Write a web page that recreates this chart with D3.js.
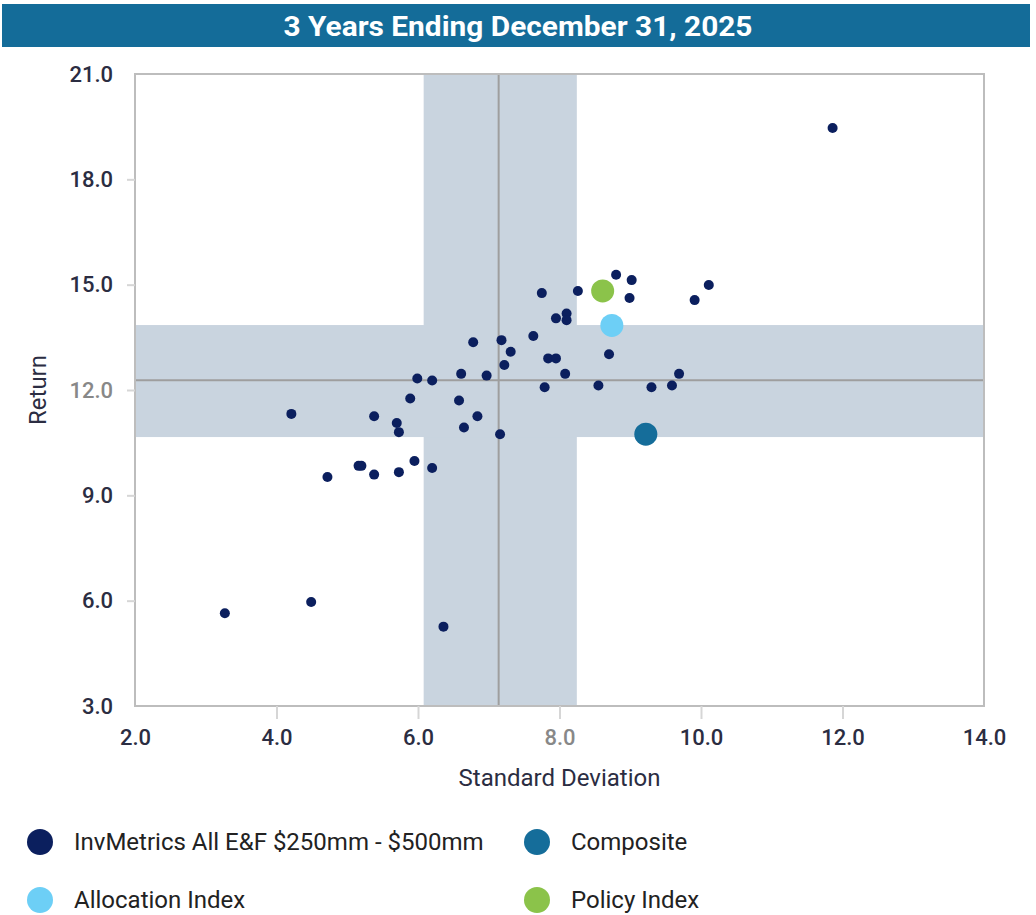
<!DOCTYPE html>
<html>
<head>
<meta charset="utf-8">
<script src="https://cdn.jsdelivr.net/npm/d3@7"></script>
<style>
  body { margin: 0; background: #fff; font-family: Roboto, "Noto Sans", sans-serif; }
</style>
</head>
<body>
<div id="chart"></div>
<script>
// peer universe: [std dev, return]
const peerRisk = [11.86, 8.80, 9.02, 8.26, 7.75, 8.99, 10.11, 9.91,
  8.10, 8.10, 7.95, 7.63, 6.78, 7.18, 7.31, 8.70,
  7.84, 7.95, 7.22, 8.08, 9.69, 7.79, 8.55, 9.30, 9.59,
  6.97, 5.99, 6.20, 6.61,
  5.89, 6.58, 4.21, 5.38, 6.84, 5.70, 5.73, 6.65, 7.16,
  4.72, 5.16, 5.20, 5.38, 5.73, 5.95, 6.20,
  3.27, 4.49, 6.36];
const peerReturn = [19.46, 15.28, 15.13, 14.82, 14.76, 14.62, 14.99, 14.56,
  14.18, 13.99, 14.04, 13.54, 13.36, 13.42, 13.09, 13.02,
  12.90, 12.90, 12.71, 12.46, 12.46, 12.08, 12.13, 12.08, 12.13,
  12.41, 12.33, 12.27, 12.46,
  11.76, 11.70, 11.32, 11.25, 11.25, 11.06, 10.80, 10.93, 10.74,
  9.52, 9.84, 9.84, 9.59, 9.66, 9.98, 9.78,
  5.64, 5.96, 5.26];

// highlighted series
const seriesNames = ["InvMetrics All E&F $250mm - $500mm", "Composite", "Allocation Index", "Policy Index"];
const seriesColors = ["#0b1f5e", "#156d9a", "#6dcff6", "#8bc34a"];
const highlightRisk = [null, 9.22, 8.74, 8.61];
const highlightReturn = [null, 10.74, 13.84, 14.82];

// peer median and interquartile bands
const medianRisk = 7.14, riskBand = [6.08, 8.245];
const medianReturn = 12.28, returnBand = [10.66, 13.85];

const xTicks = [2, 4, 6, 8, 10, 12, 14];
const yTicks = [3, 6, 9, 12, 15, 18, 21];

const width = 1036, height = 915;
const margin = { left: 135, right: 52, top: 74, bottom: 209 };

const svg = d3.select('#chart').append('svg')
  .attr('width', width).attr('height', height);

// title bar
svg.append('rect')
  .attr('x', 2).attr('y', 4).attr('width', 1028).attr('height', 43)
  .attr('fill', '#146c99');
svg.append('text')
  .attr('x', 518).attr('y', 36)
  .attr('text-anchor', 'middle')
  .attr('fill', '#fff')
  .attr('textLength', 469).attr('lengthAdjust', 'spacingAndGlyphs')
  .style('font-size', '28px').style('font-weight', 700)
  .text('3 Years Ending December 31, 2025');

const x = d3.scaleLinear().domain([2, 14]).range([margin.left, width - margin.right]);
const y = d3.scaleLinear().domain([3, 21]).range([height - margin.bottom, margin.top]);

const plot = svg.append('g');

// bands
plot.append('rect')
  .attr('x', x(riskBand[0])).attr('y', y(21))
  .attr('width', x(riskBand[1]) - x(riskBand[0])).attr('height', y(3) - y(21))
  .attr('fill', '#c9d4df');
plot.append('rect')
  .attr('x', x(2)).attr('y', y(returnBand[1]))
  .attr('width', x(14) - x(2)).attr('height', y(returnBand[0]) - y(returnBand[1]))
  .attr('fill', '#c9d4df');

// median lines
plot.append('line')
  .attr('x1', x(medianRisk)).attr('x2', x(medianRisk))
  .attr('y1', y(21)).attr('y2', y(3))
  .attr('stroke', '#9e9e9e').attr('stroke-width', 2);
plot.append('line')
  .attr('x1', x(2)).attr('x2', x(14))
  .attr('y1', y(medianReturn)).attr('y2', y(medianReturn))
  .attr('stroke', '#9e9e9e').attr('stroke-width', 2);

// frame
plot.append('rect')
  .attr('x', x(2)).attr('y', y(21))
  .attr('width', x(14) - x(2)).attr('height', y(3) - y(21))
  .attr('fill', 'none').attr('stroke', '#bdbdbd').attr('stroke-width', 2);

// axes
const xAxis = svg.append('g')
  .attr('transform', `translate(0,${y(3)})`)
  .call(d3.axisBottom(x).tickValues(xTicks).tickFormat(d3.format('.1f')).tickSize(13).tickPadding(10));
const yAxis = svg.append('g')
  .attr('transform', `translate(${x(2)},0)`)
  .call(d3.axisLeft(y).tickValues(yTicks).tickFormat(d3.format('.1f')).tickSize(8).tickPadding(14));
[xAxis, yAxis].forEach(a => {
  a.attr('font-family', 'Roboto, sans-serif').attr('font-size', 22);
  a.select('.domain').remove();
  a.selectAll('.tick line').attr('stroke', '#d6d6d6').attr('stroke-width', 2);
  a.selectAll('.tick text').attr('fill', '#2b2d42').style('font-weight', 500);
});
xAxis.selectAll('.tick text').filter(d => d === 8).attr('fill', '#888');
yAxis.selectAll('.tick text').filter(d => d === 12).attr('fill', '#888');
xAxis.selectAll('.tick line').filter(d => d === 2 || d === 14).remove();
yAxis.selectAll('.tick line').filter(d => d === 3 || d === 21).remove();

// axis titles
svg.append('text')
  .attr('x', (x(2) + x(14)) / 2).attr('y', 786)
  .attr('text-anchor', 'middle').attr('fill', '#2b2d42')
  .style('font-size', '24px')
  .text('Standard Deviation');
svg.append('text')
  .attr('transform', `translate(46,${(y(3) + y(21)) / 2}) rotate(-90)`)
  .attr('text-anchor', 'middle').attr('fill', '#2b2d42')
  .style('font-size', '24px')
  .text('Return');

// peer dots
const peers = peerRisk.map((r, i) => ({ risk: r, ret: peerReturn[i] }));
plot.selectAll('.peer')
  .data(peers)
  .join('circle')
    .attr('class', 'peer')
    .attr('cx', d => x(d.risk))
    .attr('cy', d => y(d.ret))
    .attr('r', 5)
    .attr('fill', seriesColors[0]);

// highlighted markers
const highlights = [1, 2, 3].map(i => ({ risk: highlightRisk[i], ret: highlightReturn[i], color: seriesColors[i] }));
plot.selectAll('.highlight')
  .data(highlights)
  .join('circle')
    .attr('class', 'highlight')
    .attr('cx', d => x(d.risk))
    .attr('cy', d => y(d.ret))
    .attr('r', 11.5)
    .attr('fill', d => d.color);

// legend
const legendPos = [[40, 842], [537, 842], [40, 900], [537, 900]];
const legend = svg.selectAll('.legend')
  .data(seriesNames)
  .join('g')
    .attr('class', 'legend')
    .attr('transform', (d, i) => `translate(${legendPos[i][0]},${legendPos[i][1]})`);
legend.append('circle')
  .attr('r', 13)
  .attr('fill', (d, i) => seriesColors[i]);
legend.append('text')
  .attr('x', 34).attr('y', 8)
  .attr('fill', '#222')
  .style('font-size', '24px')
  .text(d => d);
</script>
</body>
</html>
